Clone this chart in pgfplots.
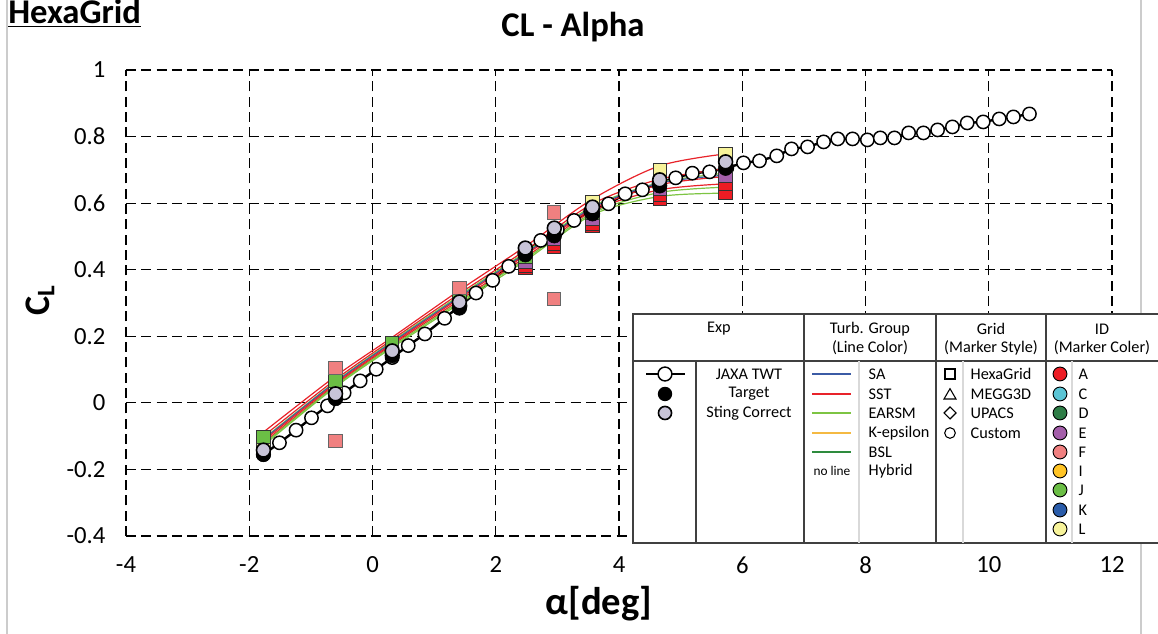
\documentclass[border=0pt]{standalone}
\usepackage{fontspec}
\setmainfont{Carlito}
\usepackage{pgfplots}
\pgfplotsset{compat=1.18}
\definecolor{cA}{HTML}{ED1C24}
\definecolor{cC}{HTML}{5BC5D5}
\definecolor{cD}{HTML}{2E7D46}
\definecolor{cE}{HTML}{A45EAA}
\definecolor{cF}{HTML}{F08080}
\definecolor{cI}{HTML}{FFC425}
\definecolor{cJ}{HTML}{6BBE45}
\definecolor{cK}{HTML}{2A5CAA}
\definecolor{cL}{HTML}{F7F39A}
\definecolor{lSA}{HTML}{3B5BA5}
\definecolor{lSST}{HTML}{E8232A}
\definecolor{lEARSM}{HTML}{7DC443}
\definecolor{lKE}{HTML}{F4B942}
\definecolor{lBSL}{HTML}{2E8B3E}
\definecolor{sting}{HTML}{C8C4D8}
\definecolor{tabline}{HTML}{404040}

\pgfplotstableread{
a cl
-1.77 -0.155
-1.51 -0.120
-1.24 -0.082
-0.99 -0.045
-0.73 -0.009
-0.46 0.030
-0.20 0.066
0.06 0.101
0.32 0.136
0.58 0.172
0.85 0.207
1.17 0.254
1.42 0.292
1.68 0.330
1.95 0.368
2.21 0.410
2.47 0.450
2.73 0.488
3.00 0.520
3.27 0.548
3.54 0.575
3.83 0.598
4.10 0.628
4.38 0.640
4.65 0.660
4.92 0.676
5.19 0.690
5.47 0.694
5.75 0.706
6.02 0.721
6.28 0.727
6.56 0.742
6.80 0.763
7.06 0.769
7.32 0.784
7.55 0.793
7.79 0.793
8.03 0.790
8.24 0.796
8.47 0.796
8.70 0.811
8.94 0.811
9.17 0.820
9.41 0.829
9.65 0.841
9.91 0.844
10.17 0.853
10.40 0.859
10.66 0.868
}\jaxa

\begin{document}
\begin{tikzpicture}[x=1pt,y=1pt]
\useasboundingbox (-94.5,-73.5) rectangle (774,402);
\begin{axis}[at={(0,0)}, anchor=south west, scale only axis,
  width=739.5pt, height=349.5pt,
  xmin=-4, xmax=12, ymin=-0.4, ymax=1,
  xtick={-4,-2,0,2,4,6,8,10,12},
  ytick={-0.4,-0.2,0,0.2,0.4,0.6,0.8,1},
  grid=major,
  grid style={black, line width=0.95pt, dash pattern=on 7.5pt off 4pt},
  axis line style={draw=none},
  tick style={black, line width=0.6pt},
  major tick length=3pt, tick align=inside, tick pos=left,
  /pgf/number format/assume math mode=true,
  yticklabel style={/pgf/number format/fixed, /pgf/number format/precision=1, xshift=-12pt},
  xticklabel style={yshift=-12pt},
  ticklabel style={font=\fontsize{18.5}{20}\selectfont},
  clip=false,
]
% JAXA TWT
\addplot[black, line width=1.8pt, mark=*, mark size=5pt,
  mark options={fill=white, draw=black, line width=1.1pt, solid}] table[x=a,y=cl] {\jaxa};

% CFD lines
\addplot[lSST, smooth, line width=0.9pt] coordinates {(-1.77,-0.088) (-0.60,0.080) (0.32,0.197) (1.41,0.338) (2.48,0.470) (3.57,0.612) (4.66,0.712) (5.73,0.748)};
\addplot[lSST, smooth, line width=0.9pt] coordinates {(-1.77,-0.100) (-0.60,0.070) (0.32,0.190) (1.41,0.328) (2.48,0.458) (3.57,0.598) (4.66,0.672) (5.73,0.703)};
\addplot[lEARSM, smooth, line width=0.9pt] coordinates {(-1.77,-0.108) (-0.60,0.064) (0.32,0.185) (1.41,0.322) (2.48,0.452) (3.57,0.590) (4.66,0.662) (5.73,0.690)};
\addplot[lSA, smooth, line width=0.9pt] coordinates {(-1.77,-0.110) (-0.60,0.062) (0.32,0.182) (1.41,0.318) (2.48,0.448) (3.57,0.586) (4.66,0.660) (5.73,0.684)};
\addplot[lSST, smooth, line width=0.9pt] coordinates {(-1.77,-0.114) (-0.60,0.058) (0.32,0.178) (1.41,0.314) (2.48,0.444) (3.57,0.582) (4.66,0.655) (5.73,0.680)};
\addplot[lSST, smooth, line width=0.9pt] coordinates {(-1.77,-0.120) (-0.60,0.054) (0.32,0.174) (1.41,0.308) (2.48,0.437) (3.57,0.576) (4.66,0.640) (5.73,0.658)};
\addplot[lEARSM, smooth, line width=0.9pt] coordinates {(-1.77,-0.124) (-0.60,0.051) (0.32,0.170) (1.41,0.303) (2.48,0.432) (3.57,0.570) (4.66,0.632) (5.73,0.648)};
\addplot[lEARSM, smooth, line width=0.9pt] coordinates {(-1.77,-0.128) (-0.60,0.048) (0.32,0.166) (1.41,0.298) (2.48,0.427) (3.57,0.565) (4.66,0.620) (5.73,0.630)};

% CFD markers
\addplot[only marks, mark=square*, mark size=5pt, mark options={fill=cA, draw=black!80, line width=0.7pt}] coordinates {(2.48,0.405) (2.95,0.470) (3.57,0.532) (4.66,0.612) (5.73,0.632)};
\addplot[only marks, mark=square*, mark size=5pt, mark options={fill=cA, draw=black!80, line width=0.7pt}] coordinates {(2.48,0.412) (2.95,0.478) (3.57,0.538) (4.66,0.625) (5.73,0.657)};
\addplot[only marks, mark=square*, mark size=5pt, mark options={fill=cE, draw=black!80, line width=0.7pt}] coordinates {(2.48,0.425) (2.95,0.492) (3.57,0.552) (4.66,0.642) (5.73,0.682)};
\addplot[only marks, mark=square*, mark size=5pt, mark options={fill=cL, draw=black!80, line width=0.7pt}] coordinates {(-1.77,-0.118) (-0.60,0.048) (0.32,0.165) (1.41,0.310) (2.48,0.450) (3.57,0.603) (4.66,0.700) (5.73,0.748)};
\addplot[only marks, mark=square*, mark size=5pt, mark options={fill=cJ, draw=black!80, line width=0.7pt}] coordinates {(-1.77,-0.102) (-0.60,0.066) (0.32,0.180) (1.41,0.318) (2.48,0.440) (3.57,0.570)};
\addplot[only marks, mark=square*, mark size=5pt, mark options={fill=cF, draw=black!60, line width=0.7pt}] coordinates {(-0.60,0.105) (-0.60,-0.115) (1.41,0.345) (2.95,0.572) (2.95,0.312)};

% Target
\addplot[only marks, mark=*, mark size=5.5pt, mark options={fill=black, draw=black}] coordinates {(-1.77,-0.155) (-0.60,0.013) (0.32,0.142) (1.41,0.285) (2.48,0.445) (2.95,0.502) (3.57,0.568) (4.66,0.652) (5.73,0.705)};
% Sting correct
\addplot[only marks, mark=*, mark size=5.2pt, mark options={fill=sting, draw=black, line width=1.2pt}] coordinates {(-1.77,-0.142) (-0.60,0.027) (0.32,0.156) (1.41,0.303) (2.48,0.465) (2.95,0.525) (3.57,0.588) (4.66,0.670) (5.73,0.724)};
\end{axis}

% chart border lines
\draw[black!20, line width=0.8pt] (-89.25,-73.5) -- (-89.25,402);
\draw[black!20, line width=0.8pt] (761.25,-73.5) -- (761.25,402);

% titles and labels
\node[font=\fontsize{26}{30}\selectfont\bfseries] at (335.25,381.75) {CL - Alpha};
\node[font=\fontsize{26}{30}\selectfont\bfseries, anchor=base west, inner sep=0pt] at (-88.5,384) {\underline{HexaGrid}};
\node[font=\fontsize{29}{32}\selectfont\bfseries] at (354.75,-51) {α[deg]};
\node[font=\fontsize{27}{30}\selectfont\bfseries, rotate=90] at (-64.5,177) {C\textsubscript{L}};

% legend table
\fill[white] (380.25,-5.25) rectangle (790,166.5);
\begin{scope}[tabline, line width=0.9pt]
\draw (790,166.5) -- (380.25,166.5) -- (380.25,-5.25) -- (790,-5.25);
\draw (380.25,131.25) -- (790,131.25);
\draw (427.5,131.25) -- (427.5,-5.25);
\draw (508.5,166.5) -- (508.5,-5.25);
\draw (607.5,166.5) -- (607.5,-5.25);
\draw (690,166.5) -- (690,-5.25);
\end{scope}
\begin{scope}[black!15, line width=0.8pt]
\draw (549.75,131.25) -- (549.75,-5.25);
\draw (627.75,131.25) -- (627.75,-5.25);
\draw (709.5,131.25) -- (709.5,-5.25);
\end{scope}
\begin{scope}[font=\fontsize{12.2}{13.5}\selectfont]
\node at (444.75,155.25) {Exp};
\node at (558,155.25) {Turb. Group};
\node at (558,141) {(Line Color)};
\node at (648.75,155.25) {Grid};
\node at (648.75,141) {(Marker Style)};
\node at (732,155.25) {ID};
\node at (732,141) {(Marker Coler)};
% Exp
\draw[black, line width=1.3pt] (390,121.5) -- (419.25,121.5);
\draw[black, fill=white, line width=1.1pt] (404.25,121.5) circle (5.2pt);
\fill[black] (404.25,106.5) circle (5.4pt);
\draw[black, fill=sting, line width=1.2pt] (404.25,92.25) circle (4.9pt);
\node at (467.25,121.5) {JAXA TWT};
\node at (467.25,106.5) {Target};
\node at (467.25,92.25) {Sting Correct};
% Turb
\draw[lSA, line width=1.1pt] (514.5,121.5) -- (543.75,121.5);
\draw[lSST, line width=1.1pt] (514.5,106.5) -- (543.75,106.5);
\draw[lEARSM, line width=1.1pt] (514.5,92.25) -- (543.75,92.25);
\draw[lKE, line width=1.1pt] (514.5,77.25) -- (543.75,77.25);
\draw[lBSL, line width=1.1pt] (514.5,63) -- (543.75,63);
\node[font=\fontsize{10}{11}\selectfont] at (529.5,48.75) {no line};
\node[anchor=west] at (553.5,121.5) {SA};
\node[anchor=west] at (553.5,106.5) {SST};
\node[anchor=west] at (553.5,92.25) {EARSM};
\node[anchor=west] at (553.5,77.25) {K-epsilon};
\node[anchor=west] at (553.5,63) {BSL};
\node[anchor=west] at (553.5,48.75) {Hybrid};
% Grid
\draw[black, line width=0.8pt] (614.25,117.75) rectangle (621.75,125.25);
\draw[black, line width=0.8pt] (613.5,102.75) -- (622.5,102.75) -- (618,110.5) -- cycle;
\draw[black, line width=0.8pt] (613.5,92.25) -- (618,96.75) -- (622.5,92.25) -- (618,87.75) -- cycle;
\draw[black, line width=0.8pt] (618,77.25) circle (4pt);
\node[anchor=west] at (630,121.5) {HexaGrid};
\node[anchor=west] at (630,106.5) {MEGG3D};
\node[anchor=west] at (630,92.25) {UPACS};
\node[anchor=west] at (630,77.25) {Custom};
% ID
\foreach \c/\l/\yy in {cA/A/121.5, cC/C/106.5, cD/D/92.25, cE/E/77.25, cF/F/63, cI/I/48.75, cJ/J/34.5, cK/K/19.5, cL/L/5.25} {
  \draw[black, fill=\c, line width=0.7pt] (700.5,\yy) circle (5.2pt);
  \node[anchor=west] at (711,\yy) {\l};
}
\end{scope}
\end{tikzpicture}
\end{document}
